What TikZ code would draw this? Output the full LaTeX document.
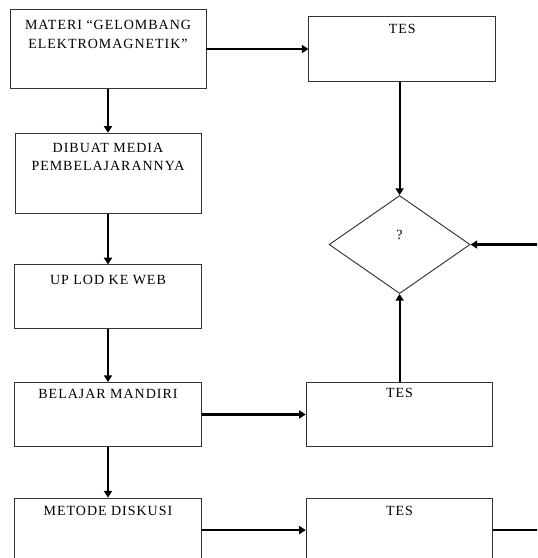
\documentclass[tikz,border=0pt]{standalone}
\usepackage{fontspec}
\setmainfont{Liberation Serif}[LetterSpace=7]
\usetikzlibrary{arrows.meta, positioning, shapes.geometric}

\begin{document}
\begin{tikzpicture}[
    x=0.75pt, y=-0.75pt,
    node distance=38pt,
    box/.style={rectangle, draw=black!80, line width=0.7pt, minimum width=140pt, minimum height=48pt, inner sep=0pt},
    txt/.style={anchor=north, align=center, inner sep=0pt, font=\fontsize{10.5}{14}\selectfont},
    flow/.style={-{Triangle[length=5pt, width=6pt]}, line width=1.6pt}
]
\useasboundingbox (0,0) rectangle (537,558);
\clip (0,0) rectangle (537,558);
% left column
\node[box, minimum width=147pt, minimum height=59pt, label={[txt, yshift=-8pt]north:{MATERI “GELOMBANG\\ELEKTROMAGNETIK”}}] (a) at (108,49) {};
\node[box, minimum width=139.5pt, minimum height=60pt, below=33pt of a, label={[txt, yshift=-7.5pt]north:{DIBUAT MEDIA\\PEMBELAJARANNYA}}] (b) {};
\node[box, below=of b, label={[txt, yshift=-8pt]north:UP LOD KE WEB}] (c) {};
\node[box, below=39.5pt of c, label={[txt, yshift=-5.5pt]north:BELAJAR MANDIRI}] (d) {};
\node[box, below=38pt of d, label={[txt, yshift=-6pt]north:METODE DISKUSI}] (e) {};
% right column
\node[box, minimum height=49pt, right=76.5pt of a, label={[txt, yshift=-6pt]north:TES}] (tes1) {};
\node[box, right=78pt of d, label={[txt, yshift=-4.5pt]north:TES}] (tes2) {};
\node[box, right=78pt of e, label={[txt, yshift=-6pt]north:TES}] (tes3) {};
\node[diamond, draw=black!80, line width=0.7pt, minimum width=105.75pt, minimum height=73.5pt, inner sep=0pt, above=66pt of tes2, label={[txt, anchor=center, yshift=7pt]center:?}] (dia) {};
\coordinate[right=60pt of dia.east] (into);
\coordinate[right=60pt of tes3.east] (outof);

\draw[flow] (a) -- (b);
\draw[flow] (b) -- (c);
\draw[flow] (c) -- (d);
\draw[flow] (d) -- (e);
\draw[flow] (a.east) -- (tes1.west);
\draw[flow] (d.east) -- (tes2.west);
\draw[flow] (e.east) -- (tes3.west);
\draw[flow] (dia.north |- tes1.south) -- (dia.north);
\draw[flow] (tes2.north) -- (dia.south);
\draw[flow] (into) -- (dia.east);
\draw[line width=1.6pt] (tes3.east) -- (outof);
\end{tikzpicture}
\end{document}
